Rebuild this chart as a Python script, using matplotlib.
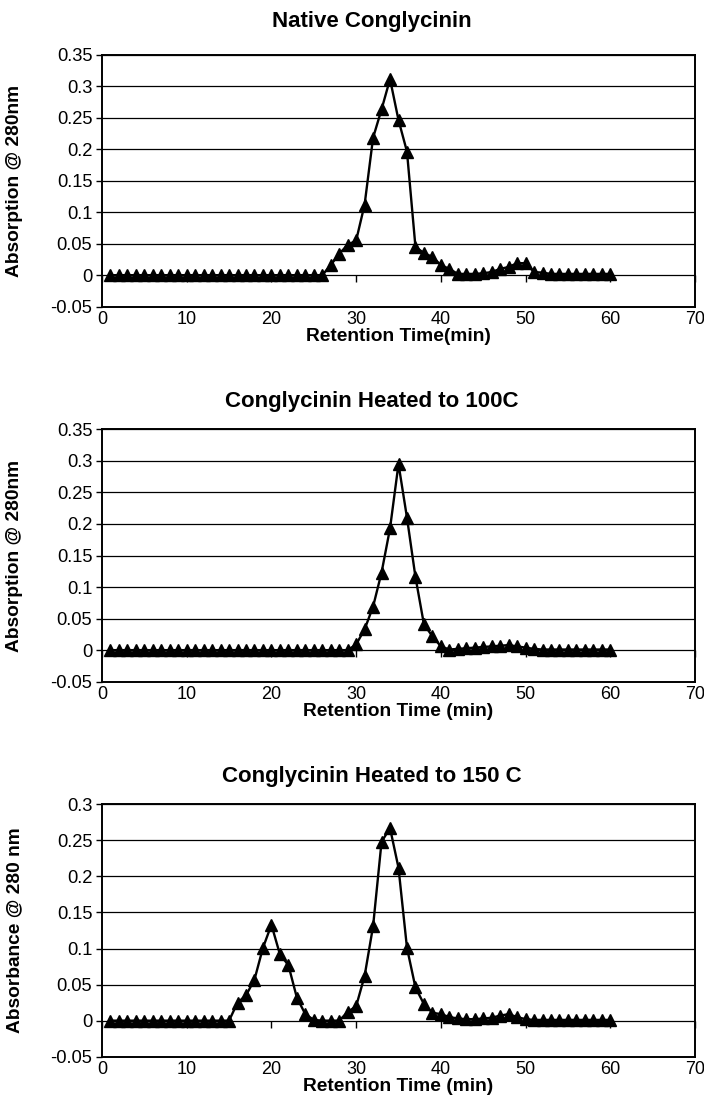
"""Size-exclusion chromatograms of conglycinin (native, 100C, 150C), three stacked panels."""
import matplotlib

matplotlib.use("Agg")
import matplotlib.pyplot as plt  # noqa: E402
from matplotlib.ticker import FuncFormatter, MultipleLocator  # noqa: E402

plt.rcParams["font.family"] = ["Liberation Sans", "DejaVu Sans"]
plt.rcParams["axes.unicode_minus"] = False

# retention time, one reading per minute
minutes = list(range(1, 61))

native = [0.0] * 26 + [
    0.016, 0.034, 0.048, 0.055, 0.112, 0.218, 0.263, 0.311, 0.246, 0.196,
    0.045, 0.035, 0.029, 0.016, 0.010, 0.002, 0.002, 0.002, 0.003, 0.005,
    0.010, 0.013, 0.019, 0.019, 0.005, 0.004, 0.002, 0.002, 0.002, 0.002,
    0.002, 0.002, 0.002, 0.002,
]

heated_100 = [0.0] * 29 + [
    0.009, 0.033, 0.069, 0.123, 0.193, 0.295, 0.210, 0.116, 0.041, 0.022,
    0.006, 0.001, 0.002, 0.003, 0.004, 0.005, 0.006, 0.007, 0.008, 0.006,
    0.004, 0.002, 0.001, 0.001, 0.001, 0.001, 0.001, 0.001, 0.001, 0.001,
    0.001,
]

heated_150 = [0.0] * 15 + [
    0.025, 0.035, 0.057, 0.101, 0.133, 0.092, 0.077, 0.032, 0.009, 0.001,
    0.0, 0.0, 0.0, 0.012, 0.020, 0.062, 0.131, 0.248, 0.267, 0.212,
    0.101, 0.046, 0.023, 0.011, 0.009, 0.005, 0.003, 0.002, 0.002, 0.003,
    0.004, 0.007, 0.009, 0.005, 0.002, 0.001, 0.001, 0.001, 0.001, 0.001,
    0.001, 0.001, 0.001, 0.001, 0.001,
]

titles = [
    "Native Conglycinin",
    "Conglycinin Heated to 100C",
    "Conglycinin Heated to 150 C",
]
xlabels = ["Retention Time(min)", "Retention Time (min)", "Retention Time (min)"]
ylabels = ["Absorption @ 280nm", "Absorption @ 280nm", "Absorbance @ 280 nm"]
ymaxes = [0.35, 0.35, 0.3]
series = [native, heated_100, heated_150]

# axes boxes in figure pixels (704 x 1101): left, top, right, bottom
W, H = 704, 1101
boxes = [
    (102, 54.5, 695, 306.7),
    (102, 429.3, 695, 681.7),
    (102, 804.3, 695, 1056.7),
]
title_gap = [33, 28, 28]  # px from axes top to title centre


def tick_fmt(v, _):
    if abs(v) < 1e-9:
        return "0"
    return f"{v:.2f}".rstrip("0").rstrip(".")


def main():
    fig = plt.figure(figsize=(W / 100, H / 100), dpi=100)
    for values, title, xl, yl, ymax, (l, t, r, b), gap in zip(
        series, titles, xlabels, ylabels, ymaxes, boxes, title_gap
    ):
        ax = fig.add_axes([l / W, 1 - b / H, (r - l) / W, (b - t) / H])
        ax.plot(minutes, values, color="black", lw=1.7, marker="^",
                markersize=8.8, markerfacecolor="black",
                markeredgecolor="black", zorder=3, clip_on=False)
        ax.set_xlim(0, 70)
        ax.set_ylim(-0.05, ymax)
        ax.xaxis.set_major_locator(MultipleLocator(10))
        ax.yaxis.set_major_locator(MultipleLocator(0.05))
        ax.yaxis.set_major_formatter(FuncFormatter(tick_fmt))
        ax.grid(axis="y", color="black", lw=0.9)
        ax.set_axisbelow(True)
        for sp in ax.spines.values():
            sp.set_linewidth(1.4)
            sp.set_color("black")
        ax.tick_params(axis="y", direction="out", length=4, width=1,
                       labelsize=13.2, pad=3)
        ax.tick_params(axis="x", length=0, labelsize=13, pad=3)

        # Excel-style category axis crossing at y = 0: ticks hang off the zero line
        zero_frac = 0.05 / (ymax + 0.05)
        sec = ax.secondary_xaxis(zero_frac)
        sec.xaxis.set_major_locator(MultipleLocator(10))
        sec.tick_params(axis="x", direction="out", length=5, width=1,
                        labelbottom=False, labeltop=False)
        for sp in sec.spines.values():
            sp.set_visible(False)

        ax.set_xlabel(xl, fontsize=13.8, fontweight="bold", labelpad=0)
        ax.set_ylabel(yl, fontsize=13.8, fontweight="bold")
        ax.yaxis.set_label_coords(-0.133, 0.5)
        ax.text(0.455, 1 + gap / (b - t), title, transform=ax.transAxes,
                ha="center", va="center", fontsize=16, fontweight="bold")

    fig.savefig("out.png", dpi=100)
    plt.close(fig)


if __name__ == "__main__":
    main()
